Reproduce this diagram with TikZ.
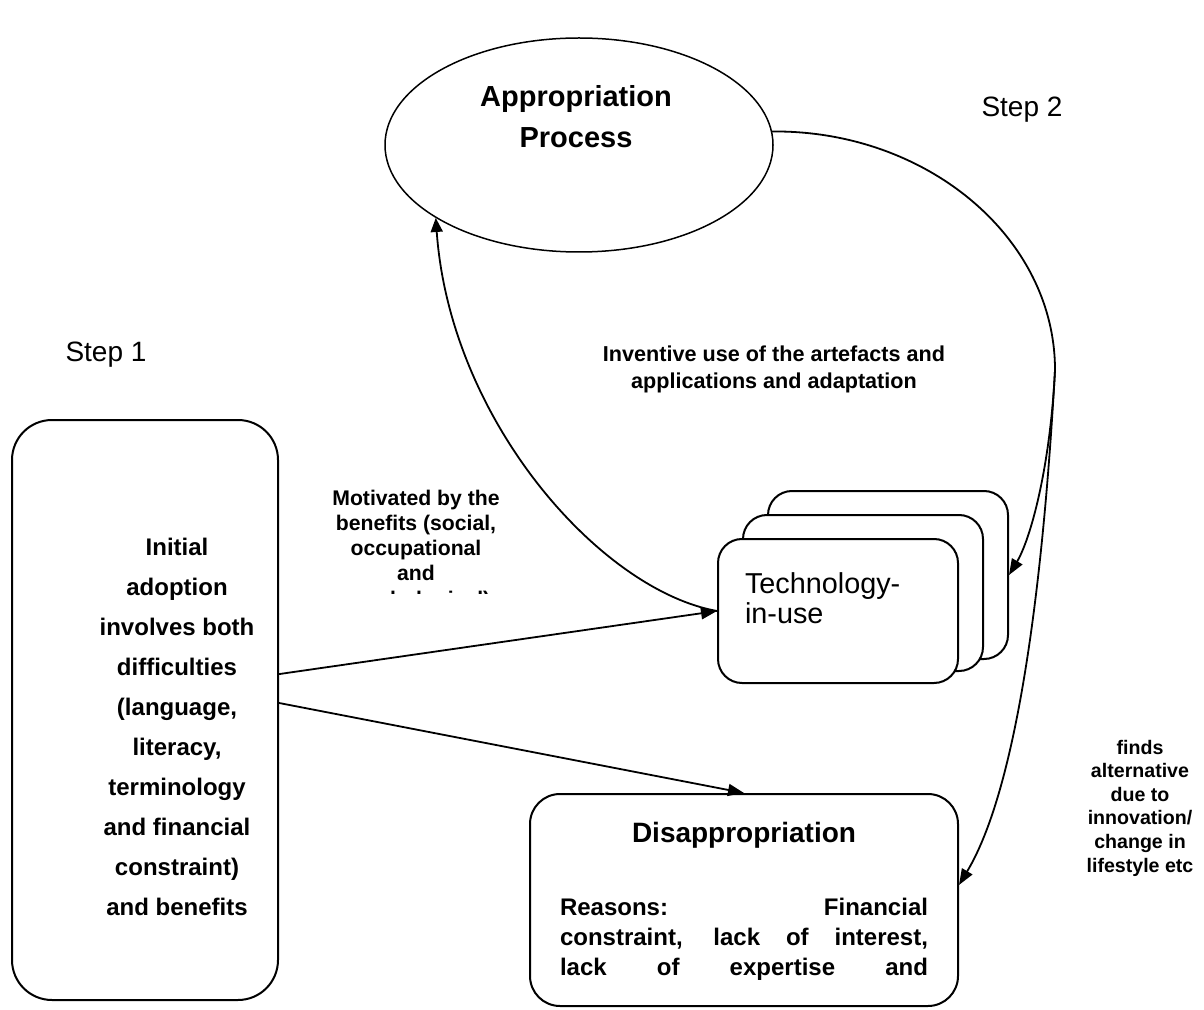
\documentclass[tikz,border=0pt]{standalone}
\usepackage{fontspec}
\setmainfont{Liberation Sans}
\usetikzlibrary{shapes.geometric,arrows.meta}
\begin{document}
\begin{tikzpicture}[x=0.5pt,y=-0.5pt,
  rbox/.style={draw, line width=1pt, fill=white, inner sep=0pt, rounded corners=#1},
  conn/.style={line width=0.9pt, -{Triangle[length=8pt,width=6pt]}},
  txt/.style={inner sep=0pt, outer sep=0pt},
  bigb/.style={txt, font=\bfseries\fontsize{12}{20}\selectfont, align=center},
  smallb/.style={txt, font=\bfseries\fontsize{10.6}{12.6}\selectfont, align=center},
]
\useasboundingbox (0,0) rectangle (1204,1010);
% shapes
\node[draw, ellipse, line width=0.75pt, minimum width=194pt, minimum height=107pt, inner sep=0pt] (ell) at (579,145) {};
\node[txt, font=\bfseries\fontsize{14.5}{17}\selectfont] (appr) at (576,99) {Appropriation};
\node[txt, font=\bfseries\fontsize{14.5}{17}\selectfont] (proc) at (576,138) {Process};

\node[rbox=20pt, minimum width=133pt, minimum height=290pt] (leftbox) at (145,710) {};
\node[bigb] (lefttext) at (177,727) {Initial\\adoption\\involves both\\difficulties\\(language,\\literacy,\\terminology\\and financial\\constraint)\\and benefits};

\node[rbox=12pt, minimum width=120pt, minimum height=84pt] (back) at (888,575) {};
\node[rbox=12pt, minimum width=120pt, minimum height=78pt] (mid) at (863,593) {};
\node[rbox=12pt, minimum width=120pt, minimum height=72pt] (front) at (838,611) {};
\node[txt, anchor=base west, font=\fontsize{14.4}{17}\selectfont] (tech1) at (745,593) {Technology-};
\node[txt, anchor=base west, font=\fontsize{14.4}{17}\selectfont] (tech2) at (745,623) {in-use};

\node[rbox=15pt, minimum width=214pt, minimum height=106pt] (dis) at (744,900) {};
\node[txt, font=\bfseries\fontsize{14}{17}\selectfont, anchor=base] (distitle) at (744,842) {Disappropriation};
\node[txt, font=\bfseries\fontsize{12}{15}\selectfont, anchor=base west] (r1) at (560,915) {\makebox[184pt][s]{Reasons: Financial}};
\node[txt, font=\bfseries\fontsize{12}{15}\selectfont, anchor=base west] (r2) at (560,945) {\makebox[184pt][s]{constraint, lack of interest,}};
\node[txt, font=\bfseries\fontsize{12}{15}\selectfont, anchor=base west] (r3) at (560,975) {\makebox[184pt][s]{lack of expertise and}};

\node[txt, font=\fontsize{14}{17}\selectfont] (step1) at (106,355) {Step 1};
\node[txt, font=\fontsize{14}{17}\selectfont] (step2) at (1022,110) {Step 2};

\node[smallb, font=\bfseries\fontsize{10.8}{13.5}\selectfont] (inv) at (774,369) {Inventive use of the artefacts and\\applications and adaptation};
\begin{scope}
\clip (300,470) rectangle (560,593);
\node[smallb, anchor=north] (mot) at (416,490) {Motivated by the\\benefits (social,\\occupational\\and\\psychological)};
\end{scope}
\node[txt, font=\bfseries\fontsize{9.8}{11.8}\selectfont, align=center] (finds) at (1140,808) {finds\\alternative\\due to\\innovation/\\change in\\lifestyle etc};

% connectors
\coordinate (j) at (1055,370);
\draw[conn] (leftbox.15) -- (front.west);
\draw[conn] (leftbox.3.4) -- (dis.north);
\draw[line width=0.9pt, -{Triangle[length=7pt,width=6pt]}] (front.west) .. controls (600,590) and (450,420) .. (ell.207.6);
\draw[conn] (ell.4) .. controls (926,130) and (1055,237) .. (j) .. controls (1050,470) and (1030,540) .. (back.east);
\draw[conn] (j) .. controls (1045,550) and (1022,780) .. (dis.4);
\end{tikzpicture}
\end{document}
